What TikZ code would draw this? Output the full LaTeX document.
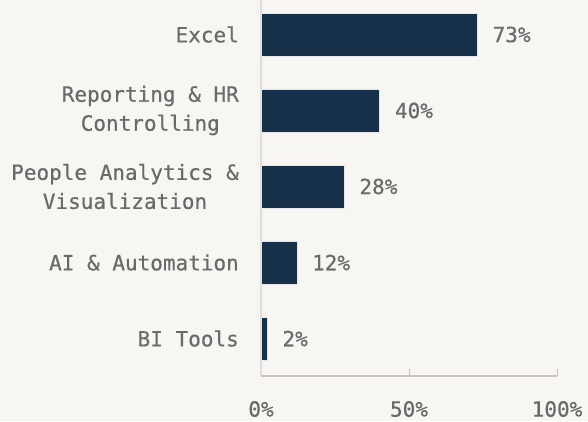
\documentclass[tikz,border=0pt]{standalone}
\usepackage{fontspec}
\setmonofont[FakeBold=0.5]{DejaVu Sans Mono}
\definecolor{paper}{HTML}{F7F6F3}
\definecolor{navy}{HTML}{17304A}
\definecolor{ink}{HTML}{6A6A6A}
\definecolor{axisv}{HTML}{DEDCD9}
\definecolor{axish}{HTML}{C9C3BC}
\tikzset{
  bar/.style={fill=navy,draw=white!80!gray,line width=0.4pt,inner sep=0pt,
    minimum height=43pt,anchor=west},
  txt/.style={text=ink,font=\fontsize{21}{29}\selectfont\ttfamily,inner sep=0pt},
  cat/.style={txt,anchor=east,align=center},
  val/.style={txt,anchor=west,xshift=15pt},
}

\begin{document}
\begin{tikzpicture}[x=1pt,y=-1pt,declare function={s=2.96;}]
 \useasboundingbox[fill=paper] (0,0) rectangle (588,421);
 % zero line of the axis
 \path (261,376) coordinate (O);
 \draw[axisv,line width=1.2pt] (261,0) -- (O);
 % bars, categories and values
 \foreach \v/\t [count=\i] in {73/Excel,
   40/{Reporting \& HR\\Controlling},
   28/{People Analytics \&\\Visualization},
   12/AI \& Automation,
   2/BI Tools}
 {\pgfmathsetmacro{\y}{34.5+76*(\i-1)}
  \node[bar,minimum width=\v*s] (B\i) at (261,\y) {};
  \node[cat] (L\i) at (239,\y) {\t};
  \node[val] (V\i) at (B\i.east) {\v\%};}
 % bottom axis with ticks
 \draw[axish,line width=1.2pt] (O) -- ++(100*s,0) coordinate (X);
 \foreach \k in {0,50,100}
 {\path (O) ++(\k*s,0) coordinate (t\k);
  \ifnum\k>0 \draw[axish,line width=1pt] (t\k) -- ++(0,-7);\fi
  \node[txt] (T\k) at ([yshift=-33]t\k) {\k\%};}
\end{tikzpicture}
\end{document}
